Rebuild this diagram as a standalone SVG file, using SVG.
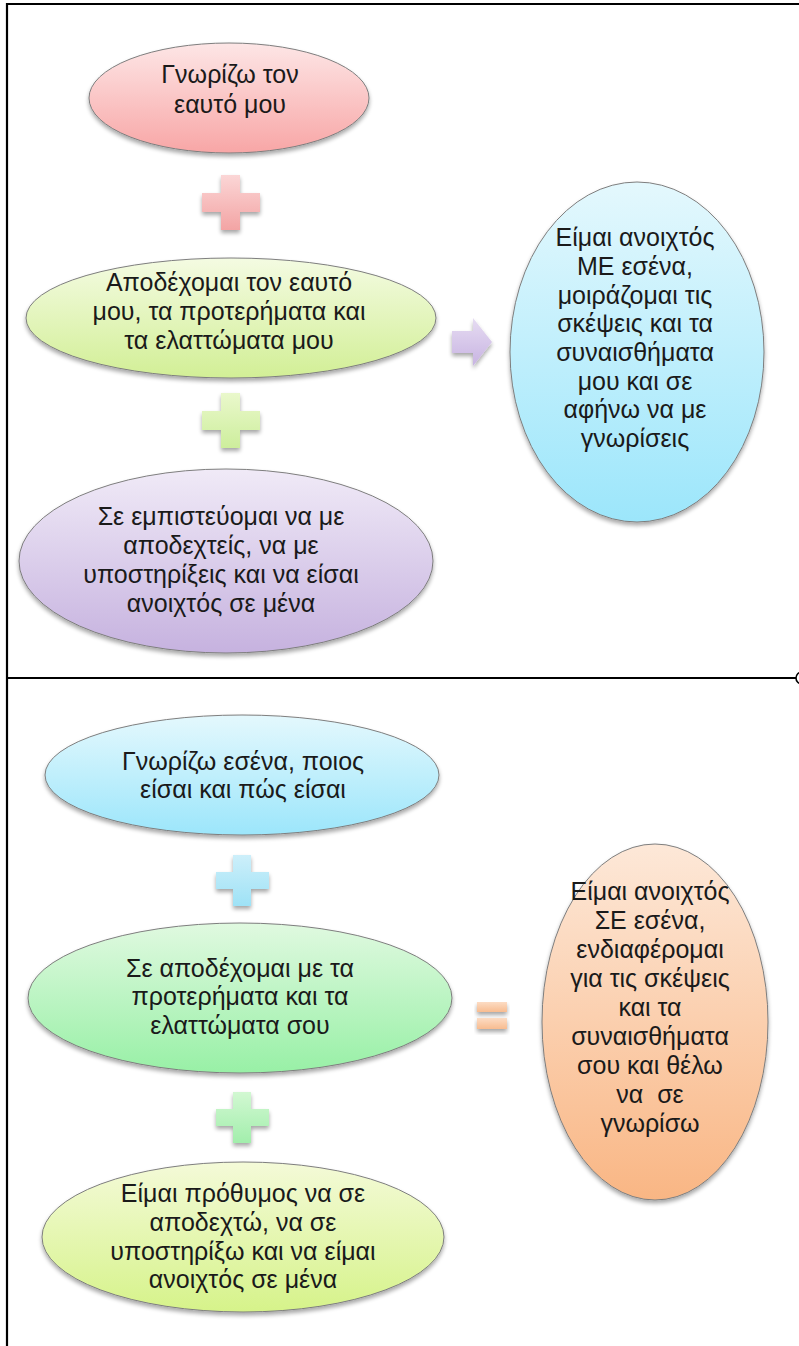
<svg xmlns="http://www.w3.org/2000/svg" width="799" height="1346" viewBox="0 0 799 1346">
<style>
.t{font-family:"Liberation Sans",Arial,sans-serif;font-size:25px;fill:#1a1a1a;text-anchor:middle}
.e{stroke:#7e7e7e;stroke-width:1}
.frame{stroke:#000;stroke-width:2.2;fill:none}
</style>
<defs>
<filter id="sh" x="-10%" y="-10%" width="120%" height="130%">
<feGaussianBlur in="SourceAlpha" stdDeviation="2"/>
<feOffset dx="0" dy="3" result="b"/>
<feComponentTransfer><feFuncA type="linear" slope="0.35"/></feComponentTransfer>
<feMerge><feMergeNode/><feMergeNode in="SourceGraphic"/></feMerge>
</filter>
<linearGradient id="gPink" x1="0" y1="0" x2="0" y2="1"><stop offset="0" stop-color="#fde6e6"/><stop offset="1" stop-color="#f8a6a6"/></linearGradient>
<linearGradient id="gLime" x1="0" y1="0" x2="0" y2="1"><stop offset="0" stop-color="#f4fbe2"/><stop offset="1" stop-color="#d2ef96"/></linearGradient>
<linearGradient id="gPurple" x1="0" y1="0" x2="0" y2="1"><stop offset="0" stop-color="#f0eaf7"/><stop offset="1" stop-color="#c6b2df"/></linearGradient>
<linearGradient id="gBlue" x1="0" y1="0" x2="0" y2="1"><stop offset="0" stop-color="#e4f8fd"/><stop offset="1" stop-color="#9ce6fb"/></linearGradient>
<linearGradient id="gGreen" x1="0" y1="0" x2="0" y2="1"><stop offset="0" stop-color="#e0f9e0"/><stop offset="1" stop-color="#98f0a6"/></linearGradient>
<linearGradient id="gYel" x1="0" y1="0" x2="0" y2="1"><stop offset="0" stop-color="#f4fad8"/><stop offset="1" stop-color="#d6f38a"/></linearGradient>
<linearGradient id="gOrange" x1="0" y1="0" x2="0" y2="1"><stop offset="0" stop-color="#fde8d8"/><stop offset="1" stop-color="#f9b684"/></linearGradient>
<linearGradient id="pPink" x1="0" y1="0" x2="0" y2="1"><stop offset="0" stop-color="#fbd6d6"/><stop offset="1" stop-color="#f3a4a4"/></linearGradient>
<linearGradient id="pLime" x1="0" y1="0" x2="0" y2="1"><stop offset="0" stop-color="#eaf8cc"/><stop offset="1" stop-color="#cdee9c"/></linearGradient>
<linearGradient id="pPurple" x1="0" y1="0" x2="0" y2="1"><stop offset="0" stop-color="#e6dcf2"/><stop offset="1" stop-color="#c8b4e2"/></linearGradient>
<linearGradient id="pBlue" x1="0" y1="0" x2="0" y2="1"><stop offset="0" stop-color="#cdeffa"/><stop offset="1" stop-color="#9ee2f6"/></linearGradient>
<linearGradient id="pGreen" x1="0" y1="0" x2="0" y2="1"><stop offset="0" stop-color="#d2f8d2"/><stop offset="1" stop-color="#a2eeac"/></linearGradient>
<linearGradient id="pOrange" x1="0" y1="0" x2="0" y2="1"><stop offset="0" stop-color="#fcdcc4"/><stop offset="1" stop-color="#f8bc90"/></linearGradient>
</defs>
<rect width="799" height="1346" fill="#fff"/>
<g id="frame">
<line class="frame" x1="7" y1="3" x2="7" y2="1346"/>
<line class="frame" x1="6" y1="4" x2="799" y2="4"/>
<line class="frame" x1="7" y1="678" x2="796" y2="678"/>
<circle cx="802" cy="678" r="6" fill="none" stroke="#000" stroke-width="1.6"/>
</g>
<g id="connectors">
<path id="plus1" filter="url(#sh)" fill="url(#pPink)" d="M221,175h19v18h20v19h-20v18h-19v-18h-19v-19h19z"/>
<path id="plus2" filter="url(#sh)" fill="url(#pLime)" d="M221,393h19v18h20v19h-20v18h-19v-18h-19v-19h19z"/>
<path id="arrow1" filter="url(#sh)" fill="url(#pPurple)" d="M452,331h21v-13l19,24l-19,24v-13h-21z"/>
<path id="plus3" filter="url(#sh)" fill="url(#pBlue)" d="M233,855h18v17h18v17h-18v17h-18v-17h-17v-17h17z"/>
<path id="plus4" filter="url(#sh)" fill="url(#pGreen)" d="M233,1092h18v17h18v17h-18v17h-18v-17h-17v-17h17z"/>
<g id="equals" filter="url(#sh)" fill="url(#pOrange)">
<rect x="477" y="1002" width="30" height="10"/>
<rect x="477" y="1018" width="30" height="11"/>
</g>
</g>
<g id="n1">
<ellipse class="e" cx="229" cy="98" rx="140" ry="55" fill="url(#gPink)" filter="url(#sh)"/>
<text class="t" x="230" y="83">Γνωρίζω τον</text>
<text class="t" x="230" y="113">εαυτό μου</text>
</g>
<g id="n2">
<ellipse class="e" cx="231" cy="318" rx="205" ry="60" fill="url(#gLime)" filter="url(#sh)"/>
<text class="t" x="229" y="291">Αποδέχομαι τον εαυτό</text>
<text class="t" x="229" y="320">μου, τα προτερήματα και</text>
<text class="t" x="229" y="349">τα ελαττώματα μου</text>
</g>
<g id="n3">
<ellipse class="e" cx="226" cy="561" rx="207" ry="92" fill="url(#gPurple)" filter="url(#sh)"/>
<text class="t" x="221" y="525">Σε εμπιστεύομαι να με</text>
<text class="t" x="221" y="554">αποδεχτείς, να με</text>
<text class="t" x="221" y="583">υποστηρίξεις και να είσαι</text>
<text class="t" x="221" y="612">ανοιχτός σε μένα</text>
</g>
<g id="n4">
<ellipse class="e" cx="637" cy="352" rx="127" ry="170" fill="url(#gBlue)" filter="url(#sh)"/>
<text class="t" x="635" y="246">Είμαι ανοιχτός</text>
<text class="t" x="635" y="275">ΜΕ εσένα,</text>
<text class="t" x="635" y="304">μοιράζομαι τις</text>
<text class="t" x="635" y="332">σκέψεις και τα</text>
<text class="t" x="635" y="361">συναισθήματα</text>
<text class="t" x="635" y="390">μου και σε</text>
<text class="t" x="635" y="418">αφήνω να με</text>
<text class="t" x="635" y="447">γνωρίσεις</text>
</g>
<g id="n5">
<ellipse class="e" cx="242" cy="775" rx="197" ry="60" fill="url(#gBlue)" filter="url(#sh)"/>
<text class="t" x="243" y="770">Γνωρίζω εσένα, ποιος</text>
<text class="t" x="243" y="798">είσαι και πώς είσαι</text>
</g>
<g id="n6">
<ellipse class="e" cx="240" cy="998" rx="212" ry="75" fill="url(#gGreen)" filter="url(#sh)"/>
<text class="t" x="240" y="977">Σε αποδέχομαι με τα</text>
<text class="t" x="240" y="1005">προτερήματα και τα</text>
<text class="t" x="240" y="1034">ελαττώματα σου</text>
</g>
<g id="n7">
<ellipse class="e" cx="243" cy="1237" rx="201" ry="75" fill="url(#gYel)" filter="url(#sh)"/>
<text class="t" x="243" y="1202">Είμαι πρόθυμος να σε</text>
<text class="t" x="243" y="1231">αποδεχτώ, να σε</text>
<text class="t" x="243" y="1260">υποστηρίξω και να είμαι</text>
<text class="t" x="243" y="1288">ανοιχτός σε μένα</text>
</g>
<g id="n8">
<ellipse class="e" cx="655" cy="1022" rx="113" ry="178" fill="url(#gOrange)" filter="url(#sh)"/>
<text class="t" x="650" y="900">Είμαι ανοιχτός</text>
<text class="t" x="650" y="929">ΣΕ εσένα,</text>
<text class="t" x="650" y="958">ενδιαφέρομαι</text>
<text class="t" x="650" y="987">για τις σκέψεις</text>
<text class="t" x="650" y="1016">και τα</text>
<text class="t" x="650" y="1045">συναισθήματα</text>
<text class="t" x="650" y="1074">σου και θέλω</text>
<text class="t" x="650" y="1103" xml:space="preserve">να  σε</text>
<text class="t" x="650" y="1132">γνωρίσω</text>
</g>
</svg>
